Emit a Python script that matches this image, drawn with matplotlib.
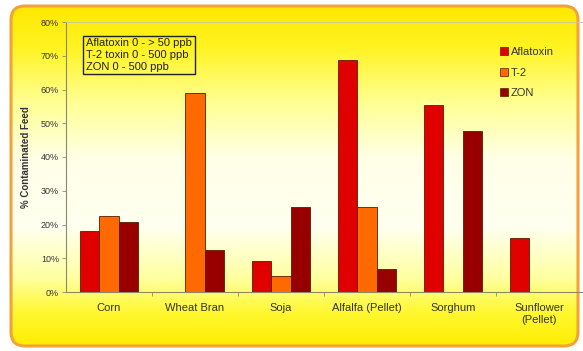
import numpy as np
import matplotlib
matplotlib.use("Agg")
import matplotlib.pyplot as plt
from matplotlib.patches import FancyBboxPatch, Patch
from matplotlib.colors import LinearSegmentedColormap

plt.rcParams.update({
    "font.family": ["Liberation Sans", "DejaVu Sans"],
    "font.size": 7,
})

# ── data ───────────────────────────────────────────────────────────────────
feeds = ["Corn", "Wheat Bran", "Soja", "Alfalfa (Pellet)", "Sorghum", "Sunflower\n(Pellet)"]
aflatoxin = [18.2, 0.0, 9.3, 68.7, 55.3, 16.1]
t2_toxin  = [22.5, 59.0, 4.6, 25.1, 0.0, 0.0]
zon       = [20.8, 12.4, 25.2, 6.7, 47.8, 0.0]

series = [
    ("Aflatoxin", aflatoxin, "#E00000"),
    ("T-2",       t2_toxin,  "#FF6A00"),
    ("ZON",       zon,       "#980000"),
]
ranges = ["Aflatoxin 0 - > 50 ppb", "T-2 toxin 0 - 500 ppb", "ZON 0 - 500 ppb"]
yticks = [0, 10, 20, 30, 40, 50, 60, 70, 80]

W, H = 583, 351
fig = plt.figure(figsize=(W / 100, H / 100), dpi=100)
fig.patch.set_facecolor("white")

# ── rounded yellow panel with vertical gradient ───────────────────────────
bg = fig.add_axes([0, 0, 1, 1], zorder=-5)
bg.set_xlim(0, W)
bg.set_ylim(H, 0)
bg.axis("off")
grad = LinearSegmentedColormap.from_list("panel", [
    (0.00, "#FFE800"),
    (0.12, "#FFF320"),
    (0.28, "#FFFF90"),
    (0.45, "#FFFFE8"),
    (0.65, "#FFFFF0"),
    (0.80, "#FFFFA0"),
    (0.90, "#FFF830"),
    (1.00, "#FFEE00"),
])
img = bg.imshow(np.linspace(0, 1, 256)[:, None], aspect="auto", cmap=grad,
                extent=[10, 580, 347, 5], zorder=0)
panel = FancyBboxPatch((11, 6), 567, 340, boxstyle="round,pad=0,rounding_size=14",
                       facecolor="none", edgecolor="#F2A23A", linewidth=2.2, zorder=2)
bg.add_patch(panel)
img.set_clip_path(panel)

# ── bar chart ─────────────────────────────────────────────────────────────
ax = fig.add_axes([66 / W, (H - 292) / H, (582 - 66) / W, (292 - 22) / H])
ax.patch.set_alpha(0)

x = np.arange(len(feeds))
bw = 0.225
for i, (name, vals, col) in enumerate(series):
    ax.bar(x + (i - 1) * bw, vals, width=bw, color=col, edgecolor="#5a1a00",
           linewidth=0.6, label=name, zorder=3)

ax.set_xlim(-0.5, len(feeds) - 0.5)
ax.set_ylim(0, 80)
ax.set_yticks(yticks)
ax.set_yticklabels([f"{v}%" for v in yticks], fontsize=6.5, color="#333333")
ax.set_xticks(x)
ax.set_xticklabels(feeds, fontsize=8, color="#333333")
ax.tick_params(axis="x", length=0, pad=8)
ax.tick_params(axis="y", length=3, width=0.6, color="#888888", pad=2)
ax.set_xticks(np.arange(0.5, len(feeds) - 0.5), minor=True)
ax.tick_params(axis="x", which="minor", length=3, width=0.6, color="#888888")

for s in ["left", "bottom"]:
    ax.spines[s].set_color("#8a8a6a")
    ax.spines[s].set_linewidth(0.8)
ax.spines["top"].set_color("#c8c8a0")
ax.spines["top"].set_linewidth(0.6)
ax.spines["right"].set_visible(False)

ax.set_ylabel("% Contaminated Feed", fontsize=7, fontweight="bold",
              color="#333333", labelpad=7)

# concentration ranges
fig.text(86 / W, 1 - 55 / H, "\n".join(ranges), fontsize=8, va="center",
         ha="left", color="#222222", linespacing=1.2,
         bbox=dict(boxstyle="square,pad=0.25", facecolor="none",
                   edgecolor="#222222", linewidth=1.0))

handles = [Patch(facecolor=c, edgecolor="#5a1a00", linewidth=0.5, label=n)
           for n, _, c in series]
fig.legend(handles=handles, loc="upper left", bbox_to_anchor=(490 / W, 1 - 37 / H),
           frameon=False, fontsize=8, handlelength=0.7, handleheight=0.7,
           handletextpad=0.3, labelspacing=0.95, labelcolor="#333333")

fig.savefig("out.png", dpi=100)
